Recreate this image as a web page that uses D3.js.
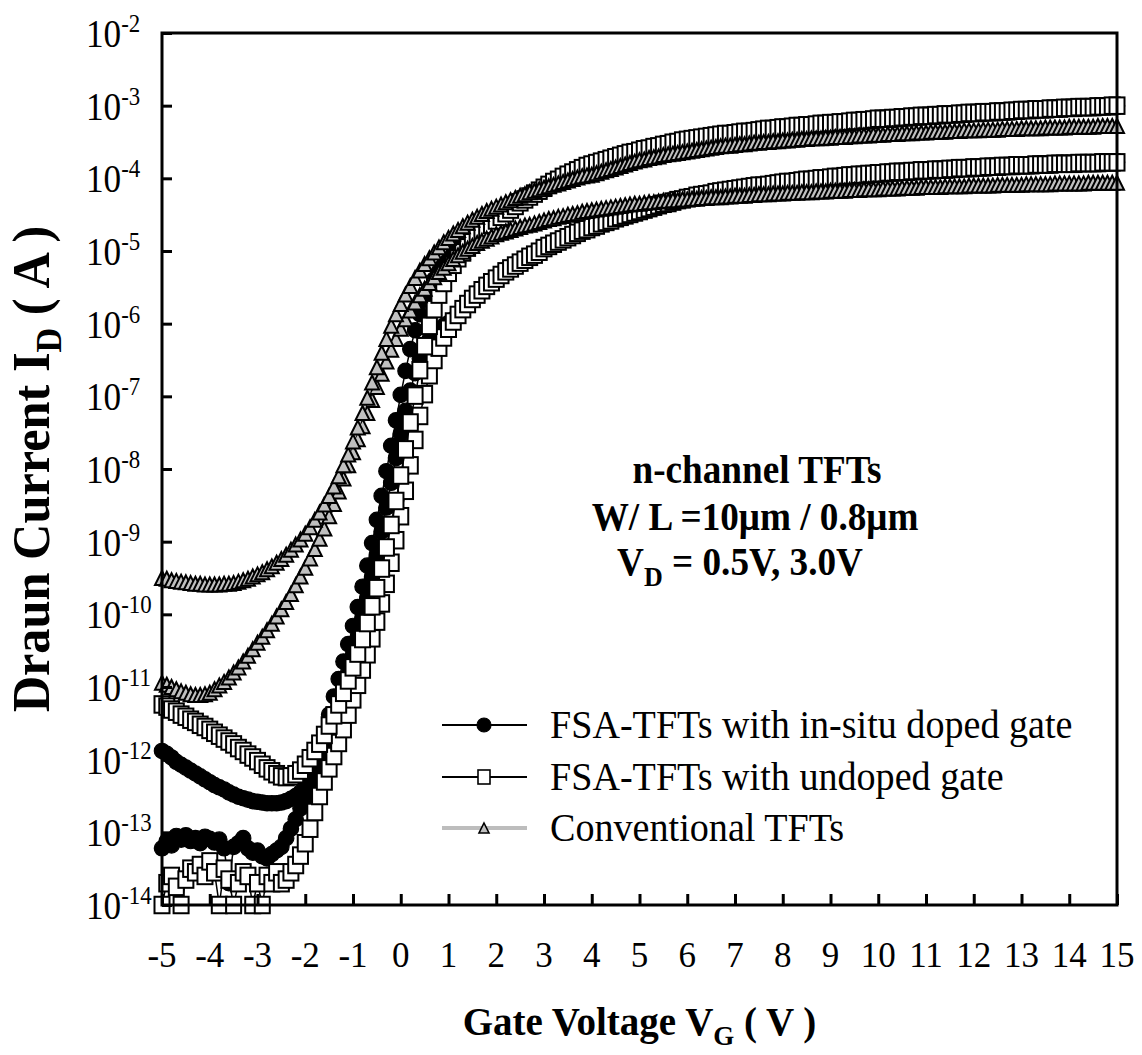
<!DOCTYPE html>
<html>
<head>
<meta charset="utf-8">
<script src="https://cdn.jsdelivr.net/npm/d3@7"></script>
<style>
  body { margin: 0; background: #fff; }
  svg { display: block; }
  text { font-family: "Liberation Serif", "Times New Roman", serif; fill: #000; }
</style>
</head>
<body>
<svg id="chart" width="1142" height="1055"></svg>
<script>
// Gate voltage sweep, -5 V .. 15 V in 0.1 V steps
const gateVoltage = d3.range(201).map(i => Math.round((-5 + i * 0.1) * 10) / 10);

// Drain current, stored as log10(I_D / A), one row per volt
const dopedVd05 = [
  -13.22, -13.12, -13.18, -13.05, -13.10, -13.04, -13.12, -13.08, -13.15, -13.06,
  -13.09, -13.14, -13.10, -13.22, -13.70, -13.20, -13.15, -13.08, -13.22, -13.28,
  -13.25, -13.33, -13.36, -13.30, -13.25, -13.20, -13.08, -12.95, -12.82, -12.67,
  -12.52, -12.40, -12.28, -12.13, -11.95, -11.75, -11.53, -11.30, -11.07, -10.83,
  -10.58, -10.32, -10.05, -9.77, -9.48, -9.18, -8.86, -8.53, -8.19, -7.85,
  -7.52, -7.20, -6.92, -6.68, -6.48, -6.33, -6.22, -6.14, -6.08, -6.03,
  -5.99, -5.94, -5.88, -5.81, -5.74, -5.67, -5.61, -5.55, -5.49, -5.44,
  -5.38, -5.33, -5.28, -5.24, -5.20, -5.16, -5.12, -5.08, -5.05, -5.01,
  -4.96, -4.93, -4.90, -4.87, -4.84, -4.81, -4.78, -4.75, -4.72, -4.70,
  -4.67, -4.65, -4.62, -4.60, -4.58, -4.55, -4.53, -4.51, -4.49, -4.47,
  -4.45, -4.43, -4.41, -4.39, -4.37, -4.35, -4.34, -4.32, -4.30, -4.29,
  -4.27, -4.26, -4.24, -4.23, -4.22, -4.21, -4.19, -4.18, -4.17, -4.16,
  -4.15, -4.14, -4.13, -4.12, -4.11, -4.10, -4.10, -4.09, -4.08, -4.07,
  -4.06, -4.05, -4.05, -4.04, -4.03, -4.02, -4.02, -4.01, -4.00, -4.00,
  -3.99, -3.98, -3.98, -3.97, -3.96, -3.96, -3.95, -3.95, -3.94, -3.94,
  -3.93, -3.93, -3.92, -3.92, -3.91, -3.91, -3.91, -3.90, -3.90, -3.89,
  -3.89, -3.89, -3.88, -3.88, -3.88, -3.87, -3.87, -3.86, -3.86, -3.86,
  -3.85, -3.85, -3.85, -3.84, -3.84, -3.84, -3.83, -3.83, -3.83, -3.82,
  -3.82, -3.82, -3.82, -3.81, -3.81, -3.81, -3.81, -3.80, -3.80, -3.80,
  -3.80, -3.80, -3.79, -3.79, -3.79, -3.79, -3.79, -3.78, -3.78, -3.78,
  -3.78
];

const dopedVd30 = [
  -11.88, -11.92, -11.97, -12.03, -12.07, -12.11, -12.15, -12.19, -12.23, -12.27,
  -12.31, -12.35, -12.38, -12.41, -12.45, -12.48, -12.51, -12.53, -12.55, -12.57,
  -12.58, -12.59, -12.60, -12.60, -12.60, -12.59, -12.57, -12.54, -12.50, -12.45,
  -12.38, -12.28, -12.12, -11.90, -11.64, -11.38, -11.13, -10.89, -10.65, -10.41,
  -10.16, -9.90, -9.62, -9.33, -9.02, -8.70, -8.37, -8.03, -7.68, -7.33,
  -6.98, -6.65, -6.35, -6.09, -5.87, -5.68, -5.52, -5.39, -5.28, -5.19,
  -5.12, -5.04, -4.97, -4.91, -4.86, -4.81, -4.76, -4.71, -4.66, -4.61,
  -4.56, -4.51, -4.47, -4.42, -4.38, -4.33, -4.29, -4.25, -4.21, -4.17,
  -4.13, -4.09, -4.05, -4.02, -3.98, -3.95, -3.92, -3.89, -3.86, -3.83,
  -3.81, -3.79, -3.77, -3.75, -3.73, -3.71, -3.69, -3.67, -3.65, -3.64,
  -3.62, -3.60, -3.59, -3.57, -3.56, -3.54, -3.53, -3.51, -3.50, -3.48,
  -3.47, -3.46, -3.45, -3.44, -3.43, -3.42, -3.41, -3.40, -3.39, -3.39,
  -3.38, -3.37, -3.36, -3.36, -3.35, -3.34, -3.33, -3.32, -3.32, -3.31,
  -3.30, -3.30, -3.29, -3.28, -3.28, -3.27, -3.27, -3.26, -3.25, -3.25,
  -3.24, -3.24, -3.23, -3.23, -3.22, -3.21, -3.21, -3.20, -3.20, -3.19,
  -3.18, -3.18, -3.18, -3.17, -3.17, -3.16, -3.16, -3.15, -3.15, -3.14,
  -3.14, -3.14, -3.13, -3.13, -3.12, -3.12, -3.12, -3.11, -3.11, -3.10,
  -3.10, -3.10, -3.09, -3.09, -3.09, -3.08, -3.08, -3.08, -3.07, -3.07,
  -3.06, -3.06, -3.06, -3.05, -3.05, -3.05, -3.04, -3.04, -3.04, -3.03,
  -3.03, -3.03, -3.02, -3.02, -3.02, -3.02, -3.01, -3.01, -3.01, -3.00,
  -3.00
];

const undopedVd05 = [
  -14.00, -13.70, -13.60, -13.75, -14.00, -13.65, -13.50, -13.55, -13.45, -13.60,
  -13.40, -13.55, -14.00, -13.50, -13.65, -14.00, -13.70, -13.55, -13.60, -14.00,
  -13.70, -14.00, -13.60, -13.70, -13.55, -13.70, -13.65, -13.55, -13.45, -13.32,
  -13.15, -12.95, -12.72, -12.50, -12.30, -12.12, -11.95, -11.77, -11.58, -11.38,
  -11.17, -10.97, -10.76, -10.55, -10.33, -10.10, -9.85, -9.58, -9.29, -8.98,
  -8.65, -8.30, -7.95, -7.60, -7.27, -6.97, -6.71, -6.50, -6.33, -6.19,
  -6.07, -5.97, -5.88, -5.80, -5.73, -5.66, -5.60, -5.54, -5.48, -5.43,
  -5.38, -5.33, -5.28, -5.24, -5.20, -5.16, -5.12, -5.08, -5.05, -5.01,
  -4.96, -4.93, -4.90, -4.87, -4.84, -4.81, -4.78, -4.75, -4.72, -4.70,
  -4.67, -4.65, -4.62, -4.60, -4.58, -4.55, -4.53, -4.51, -4.49, -4.47,
  -4.45, -4.43, -4.41, -4.39, -4.37, -4.35, -4.34, -4.32, -4.30, -4.29,
  -4.27, -4.26, -4.24, -4.23, -4.22, -4.21, -4.19, -4.18, -4.17, -4.16,
  -4.15, -4.14, -4.13, -4.12, -4.11, -4.10, -4.10, -4.09, -4.08, -4.07,
  -4.06, -4.05, -4.05, -4.04, -4.03, -4.02, -4.02, -4.01, -4.00, -4.00,
  -3.99, -3.98, -3.98, -3.97, -3.96, -3.96, -3.95, -3.95, -3.94, -3.94,
  -3.93, -3.93, -3.92, -3.92, -3.91, -3.91, -3.91, -3.90, -3.90, -3.89,
  -3.89, -3.89, -3.88, -3.88, -3.88, -3.87, -3.87, -3.86, -3.86, -3.86,
  -3.85, -3.85, -3.85, -3.84, -3.84, -3.84, -3.83, -3.83, -3.83, -3.82,
  -3.82, -3.82, -3.82, -3.81, -3.81, -3.81, -3.81, -3.80, -3.80, -3.80,
  -3.80, -3.80, -3.79, -3.79, -3.79, -3.79, -3.79, -3.78, -3.78, -3.78,
  -3.78
];

const undopedVd30 = [
  -11.24, -11.27, -11.31, -11.34, -11.38, -11.41, -11.45, -11.48, -11.52, -11.55,
  -11.59, -11.63, -11.67, -11.71, -11.75, -11.79, -11.84, -11.88, -11.93, -11.97,
  -12.02, -12.07, -12.12, -12.16, -12.20, -12.23, -12.24, -12.23, -12.20, -12.15,
  -12.07, -11.98, -11.88, -11.78, -11.66, -11.53, -11.39, -11.24, -11.08, -10.91,
  -10.73, -10.54, -10.34, -10.12, -9.89, -9.64, -9.37, -9.08, -8.77, -8.44,
  -8.09, -7.73, -7.36, -6.99, -6.64, -6.31, -6.03, -5.80, -5.60, -5.44,
  -5.30, -5.19, -5.10, -5.02, -4.95, -4.88, -4.82, -4.76, -4.70, -4.64,
  -4.58, -4.53, -4.48, -4.43, -4.38, -4.33, -4.29, -4.25, -4.21, -4.17,
  -4.13, -4.09, -4.05, -4.02, -3.98, -3.95, -3.92, -3.89, -3.86, -3.83,
  -3.81, -3.79, -3.77, -3.75, -3.73, -3.71, -3.69, -3.67, -3.65, -3.64,
  -3.62, -3.60, -3.59, -3.57, -3.56, -3.54, -3.53, -3.51, -3.50, -3.48,
  -3.47, -3.46, -3.45, -3.44, -3.43, -3.42, -3.41, -3.40, -3.39, -3.39,
  -3.38, -3.37, -3.36, -3.36, -3.35, -3.34, -3.33, -3.32, -3.32, -3.31,
  -3.30, -3.30, -3.29, -3.28, -3.28, -3.27, -3.27, -3.26, -3.25, -3.25,
  -3.24, -3.24, -3.23, -3.23, -3.22, -3.21, -3.21, -3.20, -3.20, -3.19,
  -3.18, -3.18, -3.18, -3.17, -3.17, -3.16, -3.16, -3.15, -3.15, -3.14,
  -3.14, -3.14, -3.13, -3.13, -3.12, -3.12, -3.12, -3.11, -3.11, -3.10,
  -3.10, -3.10, -3.09, -3.09, -3.09, -3.08, -3.08, -3.08, -3.07, -3.07,
  -3.06, -3.06, -3.06, -3.05, -3.05, -3.05, -3.04, -3.04, -3.04, -3.03,
  -3.03, -3.03, -3.02, -3.02, -3.02, -3.02, -3.01, -3.01, -3.01, -3.00,
  -3.00
];

const convVd05 = [
  -10.94, -10.97, -11.00, -11.03, -11.06, -11.08, -11.10, -11.11, -11.11, -11.10,
  -11.08, -11.03, -10.98, -10.93, -10.87, -10.80, -10.73, -10.65, -10.57, -10.48,
  -10.39, -10.31, -10.22, -10.13, -10.03, -9.93, -9.83, -9.72, -9.60, -9.48,
  -9.36, -9.23, -9.10, -8.96, -8.82, -8.65, -8.48, -8.31, -8.13, -7.95,
  -7.77, -7.59, -7.41, -7.23, -7.05, -6.87, -6.69, -6.52, -6.36, -6.21,
  -6.07, -5.94, -5.82, -5.71, -5.61, -5.52, -5.44, -5.36, -5.29, -5.23,
  -5.17, -5.11, -5.06, -5.01, -4.97, -4.93, -4.89, -4.86, -4.83, -4.80,
  -4.77, -4.75, -4.73, -4.71, -4.69, -4.67, -4.65, -4.64, -4.62, -4.60,
  -4.58, -4.56, -4.55, -4.53, -4.52, -4.50, -4.49, -4.48, -4.46, -4.45,
  -4.44, -4.43, -4.42, -4.41, -4.40, -4.39, -4.38, -4.37, -4.36, -4.35,
  -4.35, -4.34, -4.33, -4.33, -4.32, -4.31, -4.31, -4.30, -4.30, -4.29,
  -4.29, -4.28, -4.28, -4.27, -4.27, -4.26, -4.26, -4.26, -4.25, -4.25,
  -4.24, -4.24, -4.24, -4.23, -4.23, -4.22, -4.22, -4.22, -4.21, -4.21,
  -4.21, -4.20, -4.20, -4.20, -4.19, -4.19, -4.19, -4.18, -4.18, -4.18,
  -4.17, -4.17, -4.17, -4.17, -4.16, -4.16, -4.16, -4.15, -4.15, -4.15,
  -4.15, -4.14, -4.14, -4.14, -4.14, -4.13, -4.13, -4.13, -4.13, -4.12,
  -4.12, -4.12, -4.12, -4.12, -4.11, -4.11, -4.11, -4.11, -4.11, -4.10,
  -4.10, -4.10, -4.10, -4.10, -4.10, -4.09, -4.09, -4.09, -4.09, -4.09,
  -4.09, -4.08, -4.08, -4.08, -4.08, -4.08, -4.08, -4.07, -4.07, -4.07,
  -4.07, -4.07, -4.07, -4.07, -4.06, -4.06, -4.06, -4.06, -4.06, -4.06,
  -4.06
];

const convVd30 = [
  -9.50, -9.51, -9.53, -9.54, -9.55, -9.56, -9.57, -9.58, -9.58, -9.59,
  -9.59, -9.59, -9.59, -9.58, -9.58, -9.57, -9.55, -9.53, -9.51, -9.48,
  -9.45, -9.42, -9.38, -9.34, -9.29, -9.24, -9.18, -9.11, -9.04, -8.97,
  -8.89, -8.80, -8.70, -8.60, -8.49, -8.37, -8.24, -8.10, -7.95, -7.80,
  -7.62, -7.43, -7.23, -7.02, -6.81, -6.60, -6.40, -6.21, -6.03, -5.87,
  -5.73, -5.60, -5.48, -5.37, -5.27, -5.18, -5.10, -5.02, -4.95, -4.88,
  -4.82, -4.76, -4.71, -4.66, -4.61, -4.57, -4.53, -4.49, -4.45, -4.42,
  -4.39, -4.36, -4.33, -4.30, -4.27, -4.24, -4.22, -4.19, -4.17, -4.15,
  -4.13, -4.11, -4.09, -4.07, -4.05, -4.03, -4.01, -3.99, -3.97, -3.96,
  -3.95, -3.93, -3.91, -3.89, -3.87, -3.85, -3.83, -3.81, -3.79, -3.77,
  -3.75, -3.74, -3.72, -3.71, -3.70, -3.68, -3.67, -3.66, -3.65, -3.64,
  -3.63, -3.62, -3.61, -3.60, -3.59, -3.58, -3.57, -3.56, -3.55, -3.55,
  -3.54, -3.53, -3.53, -3.52, -3.51, -3.51, -3.50, -3.50, -3.49, -3.49,
  -3.48, -3.48, -3.47, -3.47, -3.46, -3.46, -3.45, -3.45, -3.45, -3.44,
  -3.44, -3.43, -3.43, -3.43, -3.42, -3.42, -3.41, -3.41, -3.41, -3.40,
  -3.40, -3.40, -3.39, -3.39, -3.39, -3.38, -3.38, -3.38, -3.37, -3.37,
  -3.37, -3.36, -3.36, -3.36, -3.36, -3.35, -3.35, -3.35, -3.34, -3.34,
  -3.34, -3.34, -3.33, -3.33, -3.33, -3.33, -3.32, -3.32, -3.32, -3.32,
  -3.31, -3.31, -3.31, -3.31, -3.31, -3.30, -3.30, -3.30, -3.30, -3.30,
  -3.29, -3.29, -3.29, -3.29, -3.29, -3.29, -3.28, -3.28, -3.28, -3.28,
  -3.28
];

const xTicks = d3.range(-5, 16);
const yTickExponents = d3.range(-14, -1);
const legendLabels = [
  "FSA-TFTs with in-situ doped gate",
  "FSA-TFTs with undoped gate",
  "Conventional TFTs"
];

// drawing order: circles, squares, triangles (later ones sit on top)
const series = [
  { values: dopedVd05, marker: "circle" },
  { values: dopedVd30, marker: "circle" },
  { values: undopedVd05, marker: "square" },
  { values: undopedVd30, marker: "square" },
  { values: convVd05, marker: "triangle" },
  { values: convVd30, marker: "triangle" }
];

const plot = { left: 162, top: 33, right: 1117, bottom: 905 };
const svg = d3.select("#chart");

const x = d3.scaleLinear().domain([-5, 15]).range([plot.left, plot.right]);
const y = d3.scaleLog().domain([1e-14, 1e-2]).range([plot.bottom, plot.top]);

const markerStyle = {
  circle: { line: "#000", lineWidth: 1.5 },
  square: { line: "#000", lineWidth: 1.5 },
  triangle: { line: "#bdbdbd", lineWidth: 2.5 }
};

function appendMarker(sel, type, size) {
  if (type === "circle") {
    sel.append("circle").attr("r", size.r).attr("fill", "#000")
      .attr("stroke", "#000").attr("stroke-width", 1.2);
  } else if (type === "square") {
    sel.append("rect")
      .attr("x", -size.w / 2).attr("y", -size.h / 2)
      .attr("width", size.w).attr("height", size.h)
      .attr("fill", "#fff").attr("stroke", "#000").attr("stroke-width", size.sw);
  } else {
    const h = size.t / 2;
    sel.append("path").attr("d", `M0,${-h}L${h},${h}L${-h},${h}Z`)
      .attr("fill", "#c0c0c0").attr("stroke", "#000").attr("stroke-width", size.sw);
  }
}

const plotSize = { r: 7.7, w: 15, h: 16.5, t: 14, sw: 2 };

series.forEach(s => {
  const pts = gateVoltage.map((v, i) => ({ v: v, id: Math.pow(10, s.values[i]) }));
  const st = markerStyle[s.marker];
  const g = svg.append("g");

  g.append("path")
    .datum(pts)
    .attr("fill", "none")
    .attr("stroke", st.line)
    .attr("stroke-width", st.lineWidth)
    .attr("d", d3.line().x(d => x(d.v)).y(d => y(d.id)));

  g.selectAll(".pt")
    .data(pts)
    .enter()
    .append("g")
    .attr("class", "pt")
    .attr("transform", d => `translate(${x(d.v)},${y(d.id)})`)
    .each(function () { appendMarker(d3.select(this), s.marker, plotSize); });
});

// axes: ticks point inward
const xAxis = svg.append("g")
  .attr("transform", `translate(0,${plot.bottom})`)
  .call(d3.axisBottom(x).tickValues(xTicks).tickSize(-11).tickSizeOuter(0).tickFormat(""));
const yAxis = svg.append("g")
  .attr("transform", `translate(${plot.left},0)`)
  .call(d3.axisLeft(y).tickValues(yTickExponents.map(e => Math.pow(10, e)))
    .tickSize(-10).tickSizeOuter(0).tickFormat(""));
[xAxis, yAxis].forEach(a => {
  a.select(".domain").remove();
  a.selectAll("line").attr("stroke", "#000").attr("stroke-width", 3);
});

svg.append("rect")
  .attr("x", plot.left).attr("y", plot.top)
  .attr("width", plot.right - plot.left).attr("height", plot.bottom - plot.top)
  .attr("fill", "none").attr("stroke", "#000").attr("stroke-width", 3);

// tick labels
svg.append("g").selectAll("text")
  .data(xTicks)
  .enter()
  .append("text")
  .attr("x", d => x(d))
  .attr("y", 967)
  .attr("text-anchor", "middle")
  .attr("font-size", 35)
  .text(d => String(d));

const yLabels = svg.append("g").selectAll("text")
  .data(yTickExponents)
  .enter()
  .append("text")
  .attr("transform", d => `translate(86,${y(Math.pow(10, d)) + 14}) scale(0.88,1)`)
  .attr("font-size", 40);
yLabels.append("tspan").text("10");
yLabels.append("tspan").attr("font-size", 26).attr("dy", -15).text(d => String(d));

// axis titles
const xTitle = svg.append("text")
  .attr("x", (plot.left + plot.right) / 2)
  .attr("y", 1035)
  .attr("text-anchor", "middle")
  .attr("font-size", 39)
  .attr("font-weight", "bold");
xTitle.append("tspan").text("Gate Voltage V");
xTitle.append("tspan").attr("font-size", 27).attr("dy", 10).text("G");
xTitle.append("tspan").attr("dy", -10).text(" ( V )");

const yTitle = svg.append("text")
  .attr("transform", `translate(49,${(plot.top + plot.bottom) / 2}) rotate(-90) scale(0.95,1)`)
  .attr("text-anchor", "middle")
  .attr("font-size", 53)
  .attr("font-weight", "bold");
yTitle.append("tspan").text("Draun Current I");
yTitle.append("tspan").attr("font-size", 36).attr("dy", 12).text("D");
yTitle.append("tspan").attr("dy", -12).text(" ( A )");

// annotation
const note = svg.append("g").attr("font-size", 40).attr("font-weight", "bold");
note.append("text").attr("transform", "translate(757,483) scale(0.93,1)")
  .attr("text-anchor", "middle").text("n-channel TFTs");
note.append("text").attr("transform", "translate(755,530) scale(0.93,1)")
  .attr("text-anchor", "middle").text("W/ L =10μm / 0.8μm");
const vdNote = note.append("text").attr("transform", "translate(740,575) scale(0.93,1)")
  .attr("text-anchor", "middle");
vdNote.append("tspan").text("V");
vdNote.append("tspan").attr("font-size", 28).attr("dy", 11).text("D");
vdNote.append("tspan").attr("dy", -11).text(" = 0.5V, 3.0V");

// legend
const legendRows = [
  { label: legendLabels[0], marker: "circle", y: 725 },
  { label: legendLabels[1], marker: "square", y: 777 },
  { label: legendLabels[2], marker: "triangle", y: 828 }
];
const legendSize = { r: 7, w: 12, h: 14, t: 10, sw: 1.6 };
legendRows.forEach(row => {
  const st = markerStyle[row.marker];
  const g = svg.append("g");
  g.append("line")
    .attr("x1", 442).attr("x2", 527).attr("y1", row.y).attr("y2", row.y)
    .attr("stroke", st.line).attr("stroke-width", row.marker === "triangle" ? 4 : 2);
  const m = g.append("g").attr("transform", `translate(484,${row.y})`);
  appendMarker(m, row.marker, legendSize);
  g.append("text").attr("transform", `translate(550,${row.y + 13}) scale(0.93,1)`)
    .attr("font-size", 41).text(row.label);
});
</script>
</body>
</html>
